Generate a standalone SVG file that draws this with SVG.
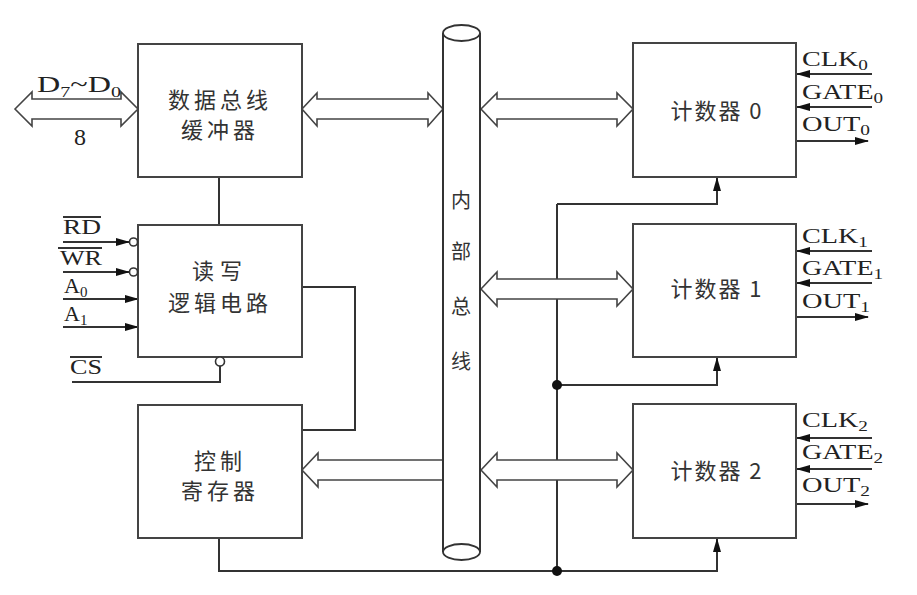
<svg xmlns="http://www.w3.org/2000/svg" width="917" height="595" viewBox="0 0 917 595">
<style>
.box{fill:#fff;stroke:#444;stroke-width:2}
.ln{fill:none;stroke:#333;stroke-width:2}
.big{fill:#fff;stroke:#444;stroke-width:1.6;stroke-linejoin:miter}
.cn{font-family:"Noto Sans CJK SC","Noto Sans",sans-serif;font-size:22px;fill:#333;text-anchor:middle}
.bus{font-family:"Noto Sans CJK SC","Noto Sans",sans-serif;font-size:20px;fill:#333;text-anchor:middle}
.lt{font-family:"Liberation Serif","Times New Roman",serif;font-size:22px;fill:#222}
.lg{font-size:24px}
.sub{font-size:15px}
</style>
<defs>
<marker id="ah" markerWidth="14" markerHeight="8" refX="13" refY="4" orient="auto" markerUnits="userSpaceOnUse">
<path d="M0,0 L14,4 L0,8 Z" fill="#111"/>
</marker>
</defs>
<rect width="917" height="595" fill="#fff"/>

<g id="connectors">
<path class="ln" d="M219,177 V225"/>
<path class="ln" d="M302,287 H355 V430 H302"/>
<path class="ln" d="M72,382 H220 V366"/>
<path class="ln" d="M63,242 H129" marker-end="url(#ah)"/>
<path class="ln" d="M63,272 H129" marker-end="url(#ah)"/>
<path class="ln" d="M63,299 H138" marker-end="url(#ah)"/>
<path class="ln" d="M63,327 H138" marker-end="url(#ah)"/>
<path class="ln" d="M557,204 V571"/>
<path class="ln" d="M557,204 H717 V178" marker-end="url(#ah)"/>
<path class="ln" d="M557,385 H717 V358" marker-end="url(#ah)"/>
<path class="ln" d="M219,538 V571 H717 V539" marker-end="url(#ah)"/>
<circle cx="557" cy="385" r="5" fill="#111"/>
<circle cx="557" cy="571" r="5" fill="#111"/>
<path class="ln" d="M872,74 H797" marker-end="url(#ah)"/>
<path class="ln" d="M872,107 H797" marker-end="url(#ah)"/>
<path class="ln" d="M796,141 H868" marker-end="url(#ah)"/>
<path class="ln" d="M872,251 H797" marker-end="url(#ah)"/>
<path class="ln" d="M872,283 H797" marker-end="url(#ah)"/>
<path class="ln" d="M796,317 H868" marker-end="url(#ah)"/>
<path class="ln" d="M872,438 H797" marker-end="url(#ah)"/>
<path class="ln" d="M872,469 H797" marker-end="url(#ah)"/>
<path class="ln" d="M796,504 H868" marker-end="url(#ah)"/>
<path class="big" d="M15,109 L32,92 V99 H121 V92 L138,109 L121,126 V119 H32 V126 Z"/>
<path class="big" d="M302,109 L317,93 V99 H428 V93 L443,109 L428,126 V119 H317 V126 Z"/>
<path class="big" d="M481,109 L497,93 V99 H617 V93 L633,109 L617,126 V119 H497 V126 Z"/>
<path class="big" d="M481,289 L497,272 V279 H617 V272 L633,289 L617,306 V299 H497 V306 Z"/>
<path class="big" d="M481,470 L497,453 V460 H617 V453 L633,470 L617,487 V480 H497 V487 Z"/>
<path class="big" d="M443,460 H318 V453 L302,470 L318,487 V480 H443"/>
</g>

<g id="bus">
<rect x="443" y="33" width="37" height="519" fill="#fff" stroke="none"/>
<path class="ln" d="M443,33 V552 M480,33 V552"/>
<ellipse cx="461.5" cy="33" rx="18.5" ry="8" fill="#fff" stroke="#333" stroke-width="1.8"/>
<ellipse cx="461.5" cy="552" rx="18.5" ry="8" fill="#fff" stroke="#333" stroke-width="1.8"/>
<text class="bus" x="461" y="208">内</text>
<text class="bus" x="461" y="259">部</text>
<text class="bus" x="461" y="314">总</text>
<text class="bus" x="461" y="369">线</text>
</g>

<g id="databus-label">
<text class="lt lg" x="37" y="92" textLength="84" lengthAdjust="spacingAndGlyphs">D<tspan class="sub" dy="5">7</tspan><tspan dy="-5">~D</tspan><tspan class="sub" dy="5">0</tspan></text>
<text class="lt lg" x="74" y="145">8</text>
</g>

<g id="buffer">
<rect class="box" x="138" y="44" width="164" height="133"/>
<text class="cn" x="220" y="108" letter-spacing="4">数据总线</text>
<text class="cn" x="220" y="138" letter-spacing="4">缓冲器</text>
</g>

<g id="rwlogic">
<rect class="box" x="138" y="225" width="164" height="132"/>
<text class="cn" x="220" y="279" letter-spacing="6">读写</text>
<text class="cn" x="220" y="311" letter-spacing="4">逻辑电路</text>
<circle cx="133.5" cy="242" r="4" fill="#fff" stroke="#333" stroke-width="1.6"/>
<circle cx="133.5" cy="272" r="4" fill="#fff" stroke="#333" stroke-width="1.6"/>
<circle cx="220" cy="361.5" r="4.5" fill="#fff" stroke="#333" stroke-width="1.6"/>
<text class="lt" x="63" y="234" textLength="38" lengthAdjust="spacingAndGlyphs">RD</text>
<path class="ln" d="M63,217 H101" stroke-width="1.5"/>
<text class="lt" x="60" y="265" textLength="42" lengthAdjust="spacingAndGlyphs">WR</text>
<path class="ln" d="M58,248 H102" stroke-width="1.5"/>
<text class="lt" x="64" y="293">A<tspan class="sub" dy="4">0</tspan></text>
<text class="lt" x="64" y="321">A<tspan class="sub" dy="4">1</tspan></text>
<text class="lt" x="70" y="374" textLength="32" lengthAdjust="spacingAndGlyphs">CS</text>
<path class="ln" d="M70,357 H102" stroke-width="1.5"/>
</g>

<g id="control">
<rect class="box" x="138" y="405" width="164" height="133"/>
<text class="cn" x="220" y="469" letter-spacing="4">控制</text>
<text class="cn" x="220" y="499" letter-spacing="4">寄存器</text>
</g>

<g id="counter0">
<rect class="box" x="633" y="43" width="163" height="134"/>
<text class="cn" x="717" y="119" letter-spacing="2">计数器 0</text>
<text class="lt" x="802" y="66" textLength="66" lengthAdjust="spacingAndGlyphs">CLK<tspan class="sub" dy="4">0</tspan></text>
<text class="lt" x="802" y="99" textLength="81" lengthAdjust="spacingAndGlyphs">GATE<tspan class="sub" dy="4">0</tspan></text>
<text class="lt" x="802" y="131" textLength="68" lengthAdjust="spacingAndGlyphs">OUT<tspan class="sub" dy="4">0</tspan></text>
</g>

<g id="counter1">
<rect class="box" x="633" y="224" width="163" height="133"/>
<text class="cn" x="717" y="297" letter-spacing="2">计数器 1</text>
<text class="lt" x="802" y="243" textLength="66" lengthAdjust="spacingAndGlyphs">CLK<tspan class="sub" dy="4">1</tspan></text>
<text class="lt" x="802" y="275" textLength="81" lengthAdjust="spacingAndGlyphs">GATE<tspan class="sub" dy="4">1</tspan></text>
<text class="lt" x="802" y="308" textLength="68" lengthAdjust="spacingAndGlyphs">OUT<tspan class="sub" dy="4">1</tspan></text>
</g>

<g id="counter2">
<rect class="box" x="633" y="404" width="163" height="134"/>
<text class="cn" x="717" y="479" letter-spacing="2">计数器 2</text>
<text class="lt" x="802" y="427" textLength="66" lengthAdjust="spacingAndGlyphs">CLK<tspan class="sub" dy="4">2</tspan></text>
<text class="lt" x="802" y="459" textLength="81" lengthAdjust="spacingAndGlyphs">GATE<tspan class="sub" dy="4">2</tspan></text>
<text class="lt" x="802" y="492" textLength="68" lengthAdjust="spacingAndGlyphs">OUT<tspan class="sub" dy="4">2</tspan></text>
</g>
</svg>
